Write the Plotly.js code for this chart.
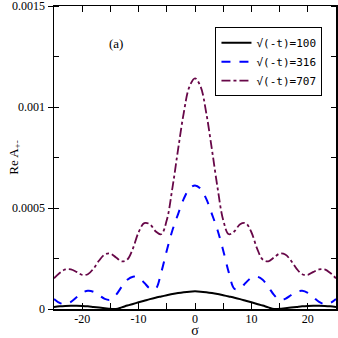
<!DOCTYPE html>
<html>
<head>
<meta charset="utf-8">
<script src="https://cdn.plot.ly/plotly-3.0.1.min.js"></script>
<style>
  html, body { margin: 0; padding: 0; background: #fff; }
  #chart { width: 338px; height: 338px; }
</style>
</head>
<body>
<div id="chart"></div>
<script>
var sigma = [-25, -24, -23, -22, -21, -20, -19, -18, -17, -16, -15, -14, -13, -12, -11, -10, -9, -8, -7, -6, -5, -4, -3, -2, -1,
             0, 1, 2, 3, 4, 5, 6, 7, 8, 9, 10, 11, 12, 13, 14, 15, 16, 17, 18, 19, 20, 21, 22, 23, 24, 25];

var re100 = [0.000010, 0.000013, 0.000015, 0.000016, 0.000016, 0.000015, 0.000013, 0.000010, 0.000007, 0.000004, 0.000001, 0.000000, 0.000008,
             0.000017, 0.000025, 0.000033, 0.000041, 0.000049, 0.000056, 0.000062, 0.000068, 0.000074, 0.000079, 0.000083, 0.000086,
             0.0000875,
             0.000086, 0.000083, 0.000079, 0.000074, 0.000068, 0.000062, 0.000056, 0.000049, 0.000041, 0.000033, 0.000025, 0.000017,
             0.000008, 0.000000, 0.000001, 0.000004, 0.000007, 0.000010, 0.000013, 0.000015, 0.000016, 0.000016, 0.000015, 0.000013, 0.000010];

var re316 = [0.000050, 0.000030, 0.000024, 0.000035, 0.000058, 0.000080, 0.000090, 0.000085, 0.000068, 0.000050, 0.000046, 0.000070, 0.000110,
             0.000145, 0.000160, 0.000155, 0.000130, 0.000102, 0.000100, 0.000180, 0.000290, 0.000390, 0.000470, 0.000545, 0.000595,
             0.000612,
             0.000595, 0.000545, 0.000470, 0.000390, 0.000290, 0.000180, 0.000100, 0.000102, 0.000130, 0.000155, 0.000160, 0.000145,
             0.000110, 0.000070, 0.000046, 0.000050, 0.000068, 0.000085, 0.000090, 0.000080, 0.000058, 0.000035, 0.000024, 0.000030, 0.000050];

var re707 = [0.000152, 0.000178, 0.000196, 0.000196, 0.000184, 0.000169, 0.000172, 0.000200, 0.000240, 0.000270, 0.000274, 0.000255, 0.000236,
             0.000245, 0.000300, 0.000380, 0.000425, 0.000420, 0.000385, 0.000370, 0.000440, 0.000600, 0.000790, 0.000970, 0.001100,
             0.001142,
             0.001100, 0.000970, 0.000790, 0.000600, 0.000440, 0.000370, 0.000385, 0.000420, 0.000425, 0.000380, 0.000300, 0.000245,
             0.000236, 0.000255, 0.000274, 0.000270, 0.000240, 0.000200, 0.000172, 0.000169, 0.000184, 0.000196, 0.000196, 0.000178, 0.000152];

var xTickVals = [-20, -10, 0, 10, 20];
var xTickText = ['-20', '-10', '0', '10', '20'];
var yTickVals = [0, 0.0005, 0.001, 0.0015];
var yTickText = ['0', '0.0005', '0.001', '0.0015'];

var trace1 = {
    x: sigma,
    y: re100,
    mode: 'lines',
    name: '√(-t)=100',
    line: {color: '#000000', width: 2, shape: 'spline'}
};

var trace2 = {
    x: sigma,
    y: re316,
    mode: 'lines',
    name: '√(-t)=316',
    line: {color: '#0000ff', width: 2, dash: 'dash', shape: 'spline'}
};

var trace3 = {
    x: sigma,
    y: re707,
    mode: 'lines',
    name: '√(-t)=707',
    line: {color: '#670748', width: 1.8, dash: 'dashdot', shape: 'spline'}
};

var data = [trace1, trace2, trace3];

var serif = "'Liberation Serif', serif";

var layout = {
    width: 338,
    height: 338,
    margin: {l: 54, r: 2, t: 6, b: 29},
    paper_bgcolor: '#ffffff',
    plot_bgcolor: '#ffffff',
    showlegend: true,
    legend: {
        x: 0.952, y: 0.93, xanchor: 'right', yanchor: 'top',
        bordercolor: '#000000', borderwidth: 1, bgcolor: '#ffffff',
        font: {family: "'DejaVu Sans Mono', monospace", size: 11, color: '#000000'},
        itemwidth: 30
    },
    font: {family: serif, size: 12, color: '#000000'},
    xaxis: {
        range: [-25, 25],
        title: {text: 'σ', font: {family: serif, size: 14}},
        tickvals: xTickVals,
        ticktext: xTickText,
        ticks: 'inside',
        ticklen: 6,
        tickcolor: '#000000',
        minor: {dtick: 5, tick0: 0, ticks: 'inside', ticklen: 6, tickcolor: '#000000'},
        showline: true,
        linecolor: '#000000',
        linewidth: 1.5,
        mirror: 'ticks',
        showgrid: false,
        zeroline: false,
        ticklabeloverflow: 'allow',
        ticklabelstandoff: -2,
        tickfont: {family: serif, size: 12}
    },
    yaxis: {
        range: [0, 0.0015],
        title: {text: 'Re A<sub>+-</sub>', font: {family: serif, size: 13}},
        tickvals: yTickVals,
        ticktext: yTickText,
        ticks: 'outside',
        ticklen: 5,
        tickcolor: '#000000',
        minor: {dtick: 0.00025, tick0: 0, ticks: 'inside', ticklen: 5, tickcolor: '#000000'},
        showline: true,
        linecolor: '#000000',
        linewidth: 1.5,
        mirror: 'ticks',
        showgrid: false,
        zeroline: false,
        ticklabeloverflow: 'allow',
        tickfont: {family: serif, size: 12}
    },
    annotations: [{
        text: '(a)',
        xref: 'paper', yref: 'paper',
        x: 0.188, y: 0.907,
        showarrow: false,
        font: {family: serif, size: 13, color: '#000000'}
    }]
};

Plotly.newPlot('chart', data, layout, {displayModeBar: false, staticPlot: true});
</script>
</body>
</html>
